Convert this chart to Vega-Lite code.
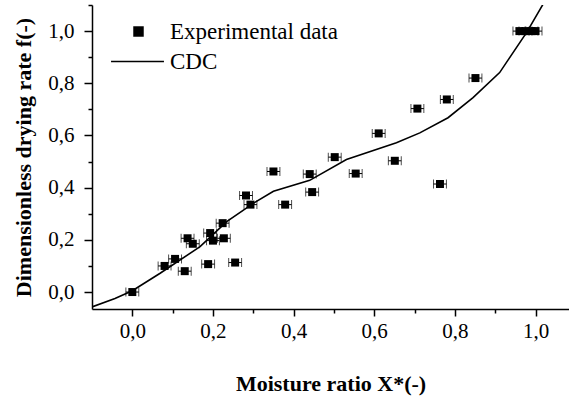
{
  "$schema": "https://vega.github.io/schema/vega-lite/v6.json",
  "autosize": "none",
  "padding": {"left": 92, "top": 5, "right": 0, "bottom": 89},
  "width": 477,
  "height": 304,
  "background": "white",
  "config": {
    "view": {"stroke": null},
    "font": "Liberation Serif",
    "axis": {
      "grid": false,
      "domainColor": "black",
      "domainWidth": 1.5,
      "tickColor": "black",
      "tickWidth": 1.5,
      "labelFont": "Liberation Serif",
      "labelFontSize": 21,
      "labelColor": "black",
      "labelFlush": false,
      "labelOverlap": false,
      "titleFont": "Liberation Serif",
      "titleFontSize": 22,
      "titleFontWeight": "bold",
      "titleColor": "black"
    },
    "legend": {
      "labelFont": "Liberation Serif",
      "labelFontSize": 23,
      "labelColor": "black",
      "labelLimit": 400,
      "padding": 0
    }
  },
  "datasets": {
    "exp": [
      {"x": 0.0, "y": 0.0, "err": 0.016, "series": "Experimental data"},
      {"x": 0.08, "y": 0.10, "err": 0.016, "series": "Experimental data"},
      {"x": 0.106, "y": 0.127, "err": 0.016, "series": "Experimental data"},
      {"x": 0.13, "y": 0.08, "err": 0.016, "series": "Experimental data"},
      {"x": 0.137, "y": 0.206, "err": 0.016, "series": "Experimental data"},
      {"x": 0.15, "y": 0.185, "err": 0.016, "series": "Experimental data"},
      {"x": 0.188, "y": 0.107, "err": 0.016, "series": "Experimental data"},
      {"x": 0.193, "y": 0.226, "err": 0.016, "series": "Experimental data"},
      {"x": 0.2, "y": 0.197, "err": 0.016, "series": "Experimental data"},
      {"x": 0.224, "y": 0.264, "err": 0.016, "series": "Experimental data"},
      {"x": 0.227, "y": 0.206, "err": 0.016, "series": "Experimental data"},
      {"x": 0.255, "y": 0.113, "err": 0.016, "series": "Experimental data"},
      {"x": 0.282, "y": 0.37, "err": 0.016, "series": "Experimental data"},
      {"x": 0.293, "y": 0.335, "err": 0.016, "series": "Experimental data"},
      {"x": 0.35, "y": 0.462, "err": 0.016, "series": "Experimental data"},
      {"x": 0.379, "y": 0.335, "err": 0.016, "series": "Experimental data"},
      {"x": 0.44, "y": 0.452, "err": 0.016, "series": "Experimental data"},
      {"x": 0.446, "y": 0.383, "err": 0.016, "series": "Experimental data"},
      {"x": 0.502, "y": 0.517, "err": 0.016, "series": "Experimental data"},
      {"x": 0.554, "y": 0.454, "err": 0.016, "series": "Experimental data"},
      {"x": 0.611, "y": 0.608, "err": 0.016, "series": "Experimental data"},
      {"x": 0.651, "y": 0.503, "err": 0.016, "series": "Experimental data"},
      {"x": 0.707, "y": 0.703, "err": 0.016, "series": "Experimental data"},
      {"x": 0.763, "y": 0.414, "err": 0.016, "series": "Experimental data"},
      {"x": 0.78, "y": 0.738, "err": 0.016, "series": "Experimental data"},
      {"x": 0.851, "y": 0.82, "err": 0.016, "series": "Experimental data"},
      {"x": 0.96, "y": 1.0, "err": 0.016, "series": "Experimental data"},
      {"x": 0.975, "y": 1.0, "err": 0.016, "series": "Experimental data"},
      {"x": 0.99, "y": 1.0, "err": 0.016, "series": "Experimental data"},
      {"x": 1.0, "y": 1.0, "err": 0.016, "series": "Experimental data"}
    ],
    "cdc": [
      {"x": -0.1, "y": -0.057, "series": "CDC"},
      {"x": -0.043, "y": -0.025, "series": "CDC"},
      {"x": 0.0, "y": 0.005, "series": "CDC"},
      {"x": 0.069, "y": 0.072, "series": "CDC"},
      {"x": 0.168, "y": 0.174, "series": "CDC"},
      {"x": 0.234, "y": 0.27, "series": "CDC"},
      {"x": 0.3, "y": 0.34, "series": "CDC"},
      {"x": 0.35, "y": 0.386, "series": "CDC"},
      {"x": 0.44, "y": 0.428, "series": "CDC"},
      {"x": 0.531, "y": 0.508, "series": "CDC"},
      {"x": 0.655, "y": 0.572, "series": "CDC"},
      {"x": 0.713, "y": 0.61, "series": "CDC"},
      {"x": 0.783, "y": 0.668, "series": "CDC"},
      {"x": 0.845, "y": 0.745, "series": "CDC"},
      {"x": 0.911, "y": 0.841, "series": "CDC"},
      {"x": 0.978, "y": 0.995, "series": "CDC"},
      {"x": 1.019, "y": 1.104, "series": "CDC"}
    ]
  },
  "encoding": {
    "x": {
      "field": "x",
      "type": "quantitative",
      "scale": {"domain": [-0.1, 1.083], "nice": false, "zero": false},
      "axis": {
        "title": "Moisture ratio X*(-)",
        "values": [0, 0.1, 0.2, 0.3, 0.4, 0.5, 0.6, 0.7, 0.8, 0.9, 1.0],
        "labelFont": "Liberation Serif",
        "labelExpr": "abs(round(datum.value*10))%2==0 ? replace(format(datum.value,'.1f'),'.',',') : ''",
        "tickSize": {"condition": {"test": "abs(round(datum.value*10))%2==0", "value": 7}, "value": 4},
        "labelPadding": 4,
        "titlePadding": 32
      }
    },
    "y": {
      "field": "y",
      "type": "quantitative",
      "scale": {"domain": [-0.065, 1.1], "nice": false, "zero": false},
      "axis": {
        "title": "Dimensionless drying rate f(-)",
        "values": [0, 0.1, 0.2, 0.3, 0.4, 0.5, 0.6, 0.7, 0.8, 0.9, 1.0, 1.1],
        "labelFont": "Liberation Serif",
        "labelExpr": "abs(round(datum.value*10))%2==0 ? replace(format(datum.value,'.1f'),'.',',') : ''",
        "tickSize": {"condition": {"test": "abs(round(datum.value*10))%2==0", "value": 8}, "value": 4},
        "labelPadding": 10,
        "titlePadding": 12
      }
    }
  },
  "layer": [
    {
      "data": {"name": "cdc"},
      "mark": {"type": "line", "strokeWidth": 1.6, "clip": true},
      "encoding": {
        "stroke": {
          "field": "series",
          "type": "nominal",
          "scale": {"domain": ["CDC"], "range": ["black"]},
          "legend": {
            "title": null,
            "orient": "none",
            "legendX": 18,
            "legendY": 29,
            "symbolType": "stroke",
            "symbolSize": 2800,
            "symbolStrokeWidth": 1.6,
            "labelOffset": 5
          }
        }
      }
    },
    {
      "data": {"name": "exp"},
      "mark": {"type": "errorbar", "color": "black", "ticks": {"size": 9, "color": "black"}, "rule": {"strokeWidth": 1}},
      "encoding": {
        "xError": {"field": "err"}
      }
    },
    {
      "data": {"name": "exp"},
      "mark": {"type": "point", "filled": true, "opacity": 1, "size": 64, "color": "black"},
      "encoding": {
        "shape": {
          "field": "series",
          "type": "nominal",
          "scale": {"domain": ["Experimental data"], "range": ["square"]},
          "legend": {
            "title": null,
            "orient": "none",
            "legendX": 35,
            "legendY": 15,
            "symbolSize": 110,
            "symbolFillColor": "black",
            "symbolStrokeWidth": 0,
            "labelOffset": 20
          }
        }
      }
    }
  ]
}
